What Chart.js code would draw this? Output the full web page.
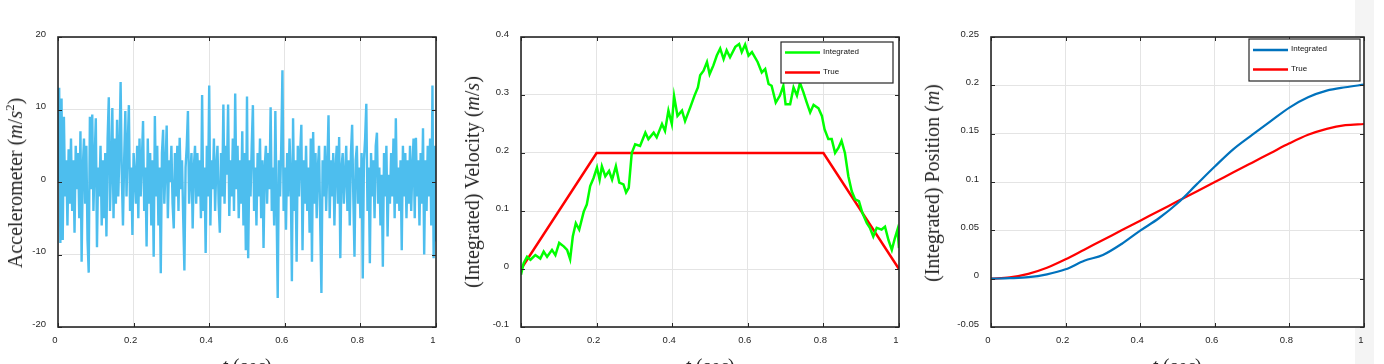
<!DOCTYPE html>
<html>
<head>
<meta charset="utf-8">
<script src="https://cdn.jsdelivr.net/npm/chart.js@4.4.1/dist/chart.umd.min.js"></script>
<style>
  html, body { margin: 0; padding: 0; background: #fff; width: 1384px; height: 364px; overflow: hidden; position: relative; }
  .strip { position: absolute; left: 1355px; top: 0; width: 19px; height: 364px; background: #f4f4f4; }
  .panel { position: absolute; top: 0; height: 364px; }
  .ytitle, .xtitle {
    position: absolute; white-space: nowrap; line-height: 1; color: #262626;
    font-family: 'Liberation Serif', 'DejaVu Serif', serif; font-size: 20px;
  }
  .ytitle { transform: translate(-50%, -50%) rotate(-90deg); }
  .xtitle { transform: translateX(-50%); }
  sup { font-size: 13px; line-height: 0; vertical-align: 8px; }
</style>
</head>
<body>
<div class="strip"></div>
<div class="panel" style="left:0;width:450px"><canvas id="chart-accel"></canvas></div>
<div class="panel" style="left:460px;width:450px"><canvas id="chart-vel"></canvas></div>
<div class="panel" style="left:920px;width:464px"><canvas id="chart-pos"></canvas></div>

<div class="ytitle" style="left:15px;top:183px">Accelerometer (<i>m</i>/<i>s</i><sup>2</sup>)</div>
<div class="ytitle" style="left:472px;top:182px">(Integrated) Velocity (<i>m</i>/<i>s</i>)</div>
<div class="ytitle" style="left:932px;top:183px">(Integrated) Position (<i>m</i>)</div>
<div class="xtitle" style="left:247px;top:356px"><i>t</i> (<i>sec</i>)</div>
<div class="xtitle" style="left:710px;top:356px"><i>t</i> (<i>sec</i>)</div>
<div class="xtitle" style="left:1177px;top:356px"><i>t</i> (<i>sec</i>)</div>

<script>
/* ---------- data ---------- */
const accelStep = 1 / 320;
const accelValues = [
  0, 13, -8.4, 11.5, -8, 9, -2, 3, -6, 4.5, -3, 6, -4, 3, -7, 5, -1, 4, -5, 7,
  -11, 2, 6, -3, 5, -8, -12.5, 9, -1, 9.3, -4, 3, 8.8, -9, 2, -2, 5, -6, 3, -5,
  4, -7.5, 6, 11.7, -4, 2, 10.2, -5, 6, -3, 8.6, -2, 4, 13.8, 1, -6, 3, 9.8, -2, 5,
  10.6, -4, 2, -7.3, 4, 1, -3, 5, -5, 6, -2, 3, 8.4, -4, 2, -8.9, 6, -3, 4, -6,
  3, -10.3, 9.1, -2, 5, -6, 2, -12.6, 4, 7.2, -3, 2, 7.8, -5, 3, 0, 5, -3, -6.4, 4,
  -2, 5, -4, 6.1, -1, 3, -5, -12.2, 2, 5, 9.8, -3, 1, 4, -6.4, 2, 5, -3, 4, -2,
  3, -5, 12, -4, 2, -9.8, 5, -2, 13.3, -6, 3, -1, 6, -4, 2, 5, -3, -7, 4, -2,
  10.7, -3, 5, 1, 10.7, -4.7, 3, -2, 6, -4, 12.2, -1, 5, -5, 3, -3, 7, -6, 4, -9.4,
  11.8, -10.5, 3, -2, 5, 10.6, -4, 2, -6, 4, -2, 6, -5, 3, -9.1, 2, 5, -3, 4, -1,
  10.3, -4, 2, -6, 9.8, -3, -16, 3, -2, 5, 15.4, -4, 2, -6.6, 4, -2, 6, 1, -13.7, 8.8,
  -4, 3, -11, 5, -2, 4, 7.9, -9.4, 3, -3, 5, -4, 2, -7, 6, -11, 6.9, -3, 4, -5,
  2, 5, -6, -15.3, 3, -2, 5, -4, 2, 9.2, -5, 3, -2, 4, -6, 2, 5, -3, 6.2, -10.5,
  2, 4, -3, 1, 5, -4, 3, -6, 4, 7.9, -2, -10.3, 3, 5, -3, 2, -5, 4, -13.3, 3,
  6, 10.8, -4, 2, -11.2, 4, -2, 3, -5, 5, 6.8, -3, 2, -6, 1, -11.7, 4, -2, 5, -7.5,
  1, -3, 4, -2, 6, -5, 8.8, -3, 2, -4, 3, -9.4, 5, -2, 4, -5, 3, -3, 5, -4,
  2, 6, -5, 6.1, -2, 3, -6, 4, -3, 7.4, -10, 3, -4, 5, -2, 6, -6, 13.3, -10.5, 5,
  -8.2
];

const velTime = [
  0, 0.007, 0.016, 0.025, 0.038, 0.051, 0.06, 0.069, 0.082, 0.091,
  0.101, 0.113, 0.122, 0.13, 0.137, 0.145, 0.154, 0.166, 0.174, 0.183,
  0.192, 0.201, 0.208, 0.214, 0.223, 0.233, 0.241, 0.251, 0.26, 0.271,
  0.278, 0.285, 0.293, 0.302, 0.315, 0.329, 0.337, 0.351, 0.359, 0.373,
  0.381, 0.39, 0.399, 0.405, 0.414, 0.426, 0.434, 0.448, 0.459, 0.468,
  0.474, 0.483, 0.492, 0.499, 0.509, 0.518, 0.527, 0.536, 0.544, 0.553,
  0.567, 0.577, 0.584, 0.593, 0.602, 0.611, 0.626, 0.637, 0.646, 0.655,
  0.663, 0.674, 0.685, 0.694, 0.7, 0.712, 0.721, 0.73, 0.738, 0.747,
  0.756, 0.765, 0.774, 0.787, 0.796, 0.803, 0.813, 0.822, 0.831, 0.84,
  0.848, 0.857, 0.866, 0.875, 0.884, 0.894, 0.903, 0.915, 0.923, 0.932,
  0.941, 0.954, 0.963, 0.972, 0.981, 0.989, 0.996, 1.0
];
const velIntegrated = [
  -0.01, 0.01, 0.021, 0.016, 0.024, 0.018, 0.03, 0.021, 0.033, 0.024,
  0.045, 0.039, 0.033, 0.017, 0.056, 0.079, 0.068, 0.099, 0.111, 0.143,
  0.157, 0.175, 0.154, 0.177, 0.16, 0.169, 0.154, 0.177, 0.149, 0.146,
  0.132, 0.14, 0.2, 0.215, 0.212, 0.235, 0.224, 0.235, 0.227, 0.25,
  0.238, 0.273, 0.25, 0.298, 0.264, 0.273, 0.255, 0.279, 0.299, 0.313,
  0.334, 0.342, 0.357, 0.336, 0.351, 0.368, 0.38, 0.362, 0.377, 0.365,
  0.383, 0.388, 0.374, 0.387, 0.368, 0.374, 0.357, 0.339, 0.345, 0.319,
  0.316, 0.287, 0.299, 0.316, 0.284, 0.284, 0.313, 0.299, 0.321, 0.305,
  0.287, 0.27, 0.283, 0.277, 0.264, 0.241, 0.224, 0.224, 0.2, 0.209,
  0.221, 0.2, 0.16, 0.134, 0.12, 0.117, 0.097, 0.079, 0.071, 0.056,
  0.071, 0.068, 0.073, 0.05, 0.033, 0.053, 0.068, 0.036
];
const velTrueTime = [0, 0.2, 0.8, 1];
const velTrue = [0, 0.2, 0.2, 0];

const posTime = [0, 0.05, 0.1, 0.15, 0.2, 0.25, 0.3, 0.35, 0.4, 0.45, 0.5,
                 0.55, 0.6, 0.65, 0.7, 0.75, 0.8, 0.85, 0.9, 0.95, 1];
const posIntegrated = [0, 0.0005, 0.0015, 0.0045, 0.0097, 0.0185, 0.0245, 0.0359, 0.0497, 0.0625, 0.078,
                       0.097, 0.116, 0.134, 0.1487, 0.163, 0.177, 0.1876, 0.1945, 0.198, 0.2007];
const posTrue = [0, 0.0013, 0.005, 0.0113, 0.02, 0.03, 0.04, 0.05, 0.06, 0.07, 0.08,
                 0.09, 0.1, 0.11, 0.12, 0.13, 0.14, 0.1488, 0.155, 0.1588, 0.16];

const seriesNames = ['Integrated', 'True'];

/* ---------- helpers ---------- */
const pts = (xs, ys) => ys.map((y, i) => ({ x: xs[i], y }));
const fmt = v => String(+(+v).toFixed(3));

Chart.defaults.font.family = "'Liberation Sans', Arial, sans-serif";
Chart.defaults.font.size = 9.5;
Chart.defaults.color = '#262626';

// white plot area, box with inner ticks, MATLAB-ish legend
const framePlugin = {
  id: 'frame',
  beforeDraw(chart) {
    const { ctx, chartArea: a } = chart;
    ctx.save();
    ctx.fillStyle = '#fff';
    ctx.fillRect(a.left, a.top, a.right - a.left, a.bottom - a.top);
    ctx.restore();
  },
  afterDraw(chart, args, opts) {
    const { ctx, chartArea: a, scales } = chart;
    ctx.save();
    ctx.strokeStyle = '#262626';
    ctx.lineWidth = 1;
    ctx.beginPath();
    scales.x.ticks.forEach(t => {
      const px = Math.round(scales.x.getPixelForValue(t.value)) + 0.5;
      ctx.moveTo(px, a.bottom); ctx.lineTo(px, a.bottom - 4);
      ctx.moveTo(px, a.top); ctx.lineTo(px, a.top + 4);
    });
    scales.y.ticks.forEach(t => {
      const py = Math.round(scales.y.getPixelForValue(t.value)) + 0.5;
      ctx.moveTo(a.left, py); ctx.lineTo(a.left + 4, py);
      ctx.moveTo(a.right, py); ctx.lineTo(a.right - 4, py);
    });
    ctx.stroke();
    ctx.lineWidth = 1.6;
    ctx.strokeRect(a.left, a.top, a.right - a.left, a.bottom - a.top);

    const lg = opts.legend;
    if (lg) {
      const x0 = a.right - lg.dx - lg.w, y0 = a.top + lg.dy;
      ctx.fillStyle = '#fff';
      ctx.fillRect(x0, y0, lg.w, lg.h);
      ctx.lineWidth = 1.2;
      ctx.strokeStyle = '#262626';
      ctx.strokeRect(x0, y0, lg.w, lg.h);
      ctx.font = "8px 'Liberation Sans', Arial, sans-serif";
      ctx.textBaseline = 'middle';
      chart.data.datasets.forEach((ds, i) => {
        const y = y0 + lg.rows[i];
        ctx.strokeStyle = ds.borderColor;
        ctx.lineWidth = 2.5;
        ctx.beginPath(); ctx.moveTo(x0 + 4, y); ctx.lineTo(x0 + 39, y); ctx.stroke();
        ctx.fillStyle = '#111';
        ctx.fillText(ds.label, x0 + 42, y - 1);
      });
    }
    ctx.restore();
  }
};

function axes(yMin, yMax, yStep, yWidth) {
  return {
    x: {
      type: 'linear', min: 0, max: 1,
      afterFit(s) { s.height = 37; },
      grid: { color: '#e4e4e4', drawTicks: false },
      border: { display: false },
      ticks: { stepSize: 0.2, padding: 8, labelOffset: -3, maxRotation: 0, callback: fmt }
    },
    y: {
      type: 'linear', min: yMin, max: yMax,
      afterFit(s) { s.width = yWidth; },
      grid: { color: '#e4e4e4', drawTicks: false },
      border: { display: false },
      ticks: { stepSize: yStep, padding: 12, labelOffset: -3, callback: fmt }
    }
  };
}

function baseOptions(padRight, scales, legend) {
  return {
    responsive: true, maintainAspectRatio: false, animation: false,
    layout: { padding: { top: 37, right: padRight, left: 0, bottom: 0 } },
    plugins: { legend: { display: false }, tooltip: { enabled: false }, frame: { legend } },
    elements: { point: { radius: 0 } },
    scales
  };
}

/* ---------- accelerometer ---------- */
new Chart(document.getElementById('chart-accel'), {
  type: 'line',
  data: {
    datasets: [{
      data: accelValues.map((v, i) => ({ x: i * accelStep, y: v })),
      borderColor: '#4DBEEE', borderWidth: 2.4, tension: 0
    }]
  },
  options: baseOptions(14, axes(-20, 20, 10, 58), null),
  plugins: [framePlugin]
});

/* ---------- velocity ---------- */
new Chart(document.getElementById('chart-vel'), {
  type: 'line',
  data: {
    datasets: [
      { label: seriesNames[0], data: pts(velTime, velIntegrated), borderColor: '#00FF00', borderWidth: 2.5, tension: 0 },
      { label: seriesNames[1], data: pts(velTrueTime, velTrue), borderColor: '#FF0000', borderWidth: 2.5, tension: 0 }
    ]
  },
  options: baseOptions(11, axes(-0.1, 0.4, 0.1, 61), { dx: 6, dy: 5, w: 112, h: 41, rows: [10.5, 30.5] }),
  plugins: [framePlugin]
});

/* ---------- position ---------- */
new Chart(document.getElementById('chart-pos'), {
  type: 'line',
  data: {
    datasets: [
      { label: seriesNames[0], data: pts(posTime, posIntegrated), borderColor: '#0072BD', borderWidth: 2.2, cubicInterpolationMode: 'monotone' },
      { label: seriesNames[1], data: pts(posTime, posTrue), borderColor: '#FF0000', borderWidth: 2.2, cubicInterpolationMode: 'monotone' }
    ]
  },
  options: baseOptions(20, axes(-0.05, 0.25, 0.05, 71), { dx: 4, dy: 2, w: 111, h: 42, rows: [11, 30.5] }),
  plugins: [framePlugin]
});
</script>
</body>
</html>
